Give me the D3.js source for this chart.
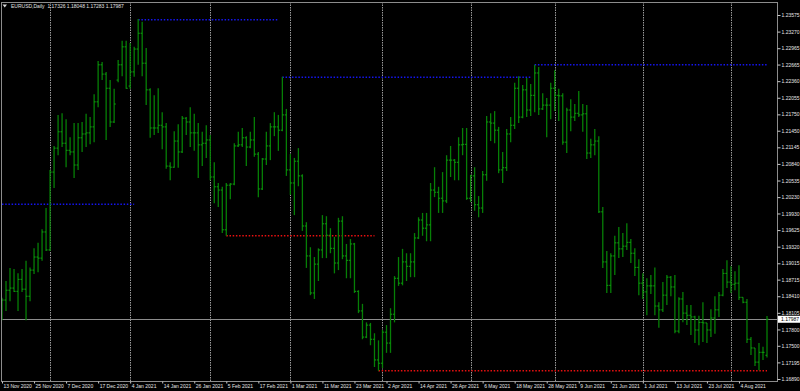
<!DOCTYPE html>
<html>
<head>
<meta charset="utf-8">
<script src="https://cdnjs.cloudflare.com/ajax/libs/d3/7.8.5/d3.min.js"></script>
<style>
html, body { margin: 0; padding: 0; background: #000; }
svg { display: block; }
</style>
</head>
<body>
<svg id="chart" width="800" height="391"></svg>
<script>
// EURUSD daily bars, 13 Nov 2020 .. 13 Aug 2021
var openP = [
  1.1810,1.1834,1.1852,1.1856,1.1850,1.1872,1.1854,1.1841,1.1889,1.1913,
  1.1911,1.1959,1.1926,1.2069,1.2113,1.2143,1.2122,1.2109,1.2106,1.2082,
  1.2132,1.2139,1.2141,1.2152,1.2198,1.2266,1.2249,1.2223,1.2161,1.2238,
  1.2266,1.2299,1.2227,1.2253,1.2295,1.2324,1.2269,1.2220,1.2150,1.2150,
  1.2155,1.2152,1.2080,1.2078,1.2126,1.2106,1.2168,1.2161,1.2141,1.2141,
  1.2119,1.2122,1.2128,1.2060,1.2042,1.2036,1.1963,1.2045,1.2047,1.2117,
  1.2119,1.2132,1.2115,1.2128,1.2102,1.2038,1.2093,1.2117,1.2152,1.2152,
  1.2146,1.2174,1.2073,1.2049,1.2089,1.2062,1.1970,1.1915,1.1847,1.1900,
  1.1926,1.1974,1.1953,1.1929,1.1902,1.1979,1.1915,1.1907,1.1937,1.1850,
  1.1814,1.1766,1.1788,1.1762,1.1724,1.1718,1.1775,1.1755,1.1808,1.1874,
  1.1865,1.1904,1.1896,1.1904,1.1948,1.1981,1.1966,1.1972,1.2036,1.2032,
  1.2021,1.2016,1.2091,1.2091,1.2087,1.2119,1.2120,1.2021,1.2062,1.2009,
  1.2003,1.2064,1.2161,1.2159,1.2146,1.2073,1.2077,1.2139,1.2155,1.2223,
  1.2170,1.2220,1.2183,1.2210,1.2251,1.2185,1.2192,1.2192,1.2223,1.2210,
  1.2209,1.2124,1.2183,1.2170,1.2177,1.2174,1.2176,1.2104,1.2119,1.2126,
  1.1996,1.1904,1.1861,1.1915,1.1939,1.1928,1.1933,1.1940,1.1920,1.1894,
  1.1865,1.1849,1.1860,1.1860,1.1823,1.1816,1.1843,1.1876,1.1858,1.1777,
  1.1836,1.1810,1.1806,1.1803,1.1779,1.1793,1.1792,1.1779,1.1801,1.1816,
  1.1843,1.1883,1.1867,1.1863,1.1865,1.1839,1.1830,1.1762,1.1746,1.1720,
  1.1738,1.17326
];
var highP = [
  1.1838,1.1869,1.1893,1.1891,1.1883,1.1891,1.1906,1.1894,1.1929,1.1939,
  1.1964,1.2003,1.2073,1.2117,1.2174,1.2177,1.2166,1.2133,1.2159,1.2159,
  1.2161,1.2176,1.2170,1.2212,1.2273,1.2271,1.2253,1.2238,1.2222,1.2275,
  1.2310,1.2310,1.2306,1.2299,1.2350,1.2345,1.2297,1.2223,1.2210,1.2223,
  1.2179,1.2159,1.2087,1.2144,1.2157,1.2172,1.2170,1.2188,1.2176,1.2159,
  1.2143,1.2155,1.2137,1.2087,1.2049,1.2042,1.2049,1.2049,1.2122,1.2143,
  1.2150,1.2135,1.2143,1.2170,1.2106,1.2095,1.2143,1.2159,1.2179,1.2174,
  1.2244,1.2185,1.2102,1.2095,1.2113,1.2065,1.1977,1.1931,1.1913,1.1929,
  1.1990,1.1988,1.1966,1.1950,1.1985,1.1988,1.1937,1.1946,1.1939,1.1852,
  1.1827,1.1793,1.1792,1.1773,1.1760,1.1779,1.1788,1.1819,1.1878,1.1913,
  1.1928,1.1920,1.1920,1.1957,1.1986,1.1994,1.1994,1.2049,1.2078,1.2042,
  1.2069,1.2100,1.2117,1.2093,1.2133,1.2150,1.2150,1.2064,1.2078,1.2025,
  1.2071,1.2172,1.2177,1.2181,1.2152,1.2106,1.2148,1.2170,1.2233,1.2245,
  1.2229,1.2242,1.2231,1.2266,1.2262,1.2214,1.2205,1.2233,1.2256,1.2222,
  1.2214,1.2187,1.2203,1.2194,1.2218,1.2194,1.2192,1.2130,1.2148,1.2135,
  1.2005,1.1924,1.1920,1.1952,1.1968,1.1957,1.1975,1.1946,1.1929,1.1909,
  1.1883,1.1874,1.1880,1.1894,1.1830,1.1867,1.1880,1.1878,1.1880,1.1839,
  1.1849,1.1825,1.1825,1.1805,1.1805,1.1830,1.1792,1.1817,1.1841,1.1849,
  1.1891,1.1907,1.1896,1.1887,1.1898,1.1839,1.1836,1.1766,1.1746,1.1755,
  1.1748,1.18048
];
var lowP = [
  1.1797,1.1814,1.1832,1.1849,1.1814,1.1849,1.1797,1.1832,1.1882,1.1885,
  1.1906,1.1924,1.1924,1.2040,1.2100,1.2115,1.2078,1.2100,1.2058,1.2073,
  1.2106,1.2115,1.2120,1.2124,1.2188,1.2238,1.2128,1.2152,1.2159,1.2234,
  1.2245,1.2222,1.2222,1.2244,1.2266,1.2245,1.2192,1.2132,1.2137,1.2141,
  1.2111,1.2075,1.2054,1.2077,1.2077,1.2104,1.2137,1.2115,1.2108,1.2058,
  1.2080,1.2095,1.2054,1.2012,1.2005,1.1957,1.1952,1.2019,1.2045,1.2115,
  1.2115,1.2080,1.2113,1.2097,1.2023,1.2036,1.2082,1.2091,1.2135,1.2108,
  1.2144,1.2062,1.2027,1.1990,1.2043,1.1961,1.1893,1.1843,1.1836,1.1869,
  1.1911,1.1911,1.1920,1.1883,1.1889,1.1909,1.1874,1.1874,1.1847,1.1810,
  1.1762,1.1764,1.1751,1.1711,1.1704,1.1709,1.1737,1.1737,1.1793,1.1860,
  1.1861,1.1869,1.1876,1.1876,1.1946,1.1952,1.1942,1.1942,1.2023,1.1994,
  1.1994,1.2012,1.2060,1.2054,1.2054,1.2100,1.2018,1.2014,1.1998,1.1986,
  1.1994,1.2053,1.2126,1.2122,1.2067,1.2049,1.2071,1.2124,1.2148,1.2159,
  1.2168,1.2170,1.2172,1.2179,1.2174,1.2183,1.2133,1.2166,1.2181,1.2163,
  1.2119,1.2104,1.2144,1.2163,1.2170,1.2143,1.2093,1.2095,1.2100,1.1994,
  1.1893,1.1847,1.1847,1.1880,1.1911,1.1913,1.1926,1.1902,1.1878,1.1843,
  1.1836,1.1806,1.1845,1.1806,1.1783,1.1812,1.1825,1.1841,1.1773,1.1773,
  1.1793,1.1788,1.1770,1.1755,1.1751,1.1757,1.1755,1.1766,1.1772,1.1803,
  1.1841,1.1856,1.1847,1.1852,1.1834,1.1828,1.1755,1.1733,1.1713,1.1705,
  1.1724,1.17283
];
var closeP = [
  1.1834,1.1852,1.1856,1.1850,1.1872,1.1854,1.1841,1.1889,1.1913,1.1911,
  1.1959,1.1926,1.2069,1.2113,1.2143,1.2122,1.2109,1.2106,1.2082,1.2132,
  1.2139,1.2141,1.2152,1.2198,1.2266,1.2249,1.2223,1.2161,1.2194,1.2266,
  1.2299,1.2223,1.2253,1.2295,1.2324,1.2269,1.2220,1.2150,1.2150,1.2155,
  1.2152,1.2080,1.2078,1.2126,1.2106,1.2168,1.2161,1.2141,1.2141,1.2119,
  1.2122,1.2128,1.2060,1.2042,1.2036,1.1963,1.2045,1.2047,1.2117,1.2119,
  1.2132,1.2115,1.2128,1.2102,1.2038,1.2093,1.2117,1.2152,1.2152,1.2146,
  1.2174,1.2073,1.2049,1.2089,1.2062,1.1970,1.1915,1.1847,1.1900,1.1926,
  1.1974,1.1953,1.1929,1.1902,1.1979,1.1915,1.1907,1.1937,1.1850,1.1814,
  1.1766,1.1788,1.1762,1.1724,1.1718,1.1775,1.1755,1.1808,1.1874,1.1865,
  1.1904,1.1896,1.1904,1.1948,1.1981,1.1966,1.1972,1.2036,1.2032,1.2021,
  1.2016,1.2091,1.2091,1.2087,1.2119,1.2120,1.2021,1.2062,1.2009,1.2003,
  1.2064,1.2161,1.2159,1.2146,1.2073,1.2077,1.2139,1.2155,1.2223,1.2170,
  1.2220,1.2183,1.2210,1.2251,1.2185,1.2192,1.2192,1.2223,1.2210,1.2209,
  1.2124,1.2183,1.2170,1.2177,1.2174,1.2176,1.2104,1.2119,1.2126,1.1996,
  1.1904,1.1861,1.1915,1.1939,1.1928,1.1933,1.1940,1.1920,1.1894,1.1865,
  1.1849,1.1860,1.1860,1.1823,1.1816,1.1843,1.1876,1.1858,1.1777,1.1836,
  1.1810,1.1806,1.1803,1.1779,1.1793,1.1792,1.1779,1.1801,1.1816,1.1843,
  1.1883,1.1867,1.1863,1.1865,1.1839,1.1830,1.1762,1.1746,1.1720,1.1738,
  1.1738,1.17987
];

// time scale labels, one every 8 bars
var dateLabels = [
  "13 Nov 2020","25 Nov 2020","7 Dec 2020","17 Dec 2020","4 Jan 2021","14 Jan 2021",
  "26 Jan 2021","5 Feb 2021","17 Feb 2021","1 Mar 2021","11 Mar 2021","23 Mar 2021",
  "2 Apr 2021","14 Apr 2021","26 Apr 2021","6 May 2021","18 May 2021","28 May 2021",
  "9 Jun 2021","21 Jun 2021","1 Jul 2021","13 Jul 2021","23 Jul 2021","4 Aug 2021"
];
var labelStep = 8;
// first bar of each month (vertical grid)
var monthStarts = [12, 32, 52, 72, 95, 117, 138, 160, 182];

var priceTicks = [
  1.23575,1.23270,1.22965,1.22665,1.22360,1.22055,1.21750,1.21450,1.21145,1.20840,
  1.20535,1.20230,1.19930,1.19625,1.19320,1.19015,1.18715,1.18410,1.18105,1.17800,
  1.17500,1.17195,1.16890
];
var lastPrice = 1.17987;
var symbolTitle = "EURUSD,Daily  1.17326 1.18048 1.17283 1.17987";

// period high / low levels
var highLevels = [
  { price: 1.2010, from: 0, to: 33 },
  { price: 1.2349, from: 34, to: 69 },
  { price: 1.2243, from: 70, to: 132 },
  { price: 1.2266, from: 133, to: 191 }
];
var lowLevels = [
  { price: 1.1952, from: 56, to: 93 },
  { price: 1.1704, from: 94, to: 191 }
];

(function () {
  var bars = openP.map(function (o, i) {
    return { i: i, o: o, h: highP[i], l: lowP[i], c: closeP[i] };
  });

  var W = 800, H = 391;
  var pLeft = 1, pRight = 777, pTop = 2, pBottom = 381;
  var font = "'Liberation Sans', Arial, sans-serif";

  var svg = d3.select("#chart");
  svg.append("rect").attr("width", W).attr("height", H).attr("fill", "#000");

  var x = d3.scaleLinear().domain([0, bars.length - 1]).range([2, 767]);
  var y = d3.scaleLinear().domain([1.16890, 1.23575]).range([379, 15]);

  svg.append("clipPath").attr("id", "plot")
    .append("rect").attr("x", pLeft).attr("y", pTop)
    .attr("width", pRight - pLeft).attr("height", pBottom - pTop);

  var plot = svg.append("g").attr("clip-path", "url(#plot)");

  // month grid
  plot.selectAll("line.grid").data(monthStarts).enter().append("line")
    .attr("class", "grid")
    .attr("x1", function (d) { return Math.round(x(d)) + 0.5; })
    .attr("x2", function (d) { return Math.round(x(d)) + 0.5; })
    .attr("y1", pTop).attr("y2", pBottom)
    .attr("stroke", "#9a9a9a").attr("stroke-width", 1)
    .attr("stroke-dasharray", "1.5,1");

  // level lines
  function levels(data, color) {
    plot.append("g").selectAll("line").data(data).enter().append("line")
      .attr("x1", function (d) { return x(d.from); })
      .attr("x2", function (d) { return x(d.to); })
      .attr("y1", function (d) { return y(d.price); })
      .attr("y2", function (d) { return y(d.price); })
      .attr("stroke", color).attr("stroke-width", 1.5)
      .attr("stroke-dasharray", "1.5,1.7");
  }
  levels(highLevels, "#1515ee");
  levels(lowLevels, "#e81010");

  // bid line
  var bidY = Math.round(y(lastPrice)) + 0.5;
  plot.append("line")
    .attr("x1", pLeft).attr("x2", pRight)
    .attr("y1", bidY).attr("y2", bidY)
    .attr("stroke", "#8c8c8c").attr("stroke-width", 1);

  // OHLC bars
  var barG = plot.append("g");
  barG.selectAll("line.hl").data(bars).enter().append("line")
    .attr("x1", function (d) { return x(d.i); })
    .attr("x2", function (d) { return x(d.i); })
    .attr("y1", function (d) { return y(d.h); })
    .attr("y2", function (d) { return y(d.l); })
    .attr("stroke", "#067f06").attr("stroke-width", 1.3);
  barG.selectAll("line.op").data(bars).enter().append("line")
    .attr("x1", function (d) { return x(d.i) - 1.6; })
    .attr("x2", function (d) { return x(d.i); })
    .attr("y1", function (d) { return y(d.o); })
    .attr("y2", function (d) { return y(d.o); })
    .attr("stroke", "#10a010").attr("stroke-width", 1);
  barG.selectAll("line.cl").data(bars).enter().append("line")
    .attr("x1", function (d) { return x(d.i); })
    .attr("x2", function (d) { return x(d.i) + 1.6; })
    .attr("y1", function (d) { return y(d.c); })
    .attr("y2", function (d) { return y(d.c); })
    .attr("stroke", "#10a010").attr("stroke-width", 1);

  // frame
  svg.append("rect")
    .attr("x", pLeft + 0.5).attr("y", pTop + 0.5)
    .attr("width", pRight - pLeft).attr("height", pBottom - pTop)
    .attr("fill", "none").attr("stroke", "#8c8c8c").attr("stroke-width", 1);

  // price axis
  var yAxis = d3.axisRight(y).tickValues(priceTicks)
    .tickSize(3).tickPadding(1).tickFormat(d3.format(".5f"));
  var yg = svg.append("g").attr("transform", "translate(" + (pRight + 0.5) + ",0)").call(yAxis);
  yg.select(".domain").remove();
  yg.selectAll(".tick line").attr("stroke", "#c8c8c8");
  yg.selectAll(".tick text").attr("fill", "#e6e6e6")
    .style("font-family", font).style("font-size", "5px");

  // current price tag
  var tagY = y(lastPrice);
  svg.append("rect").attr("x", pRight + 1).attr("y", tagY - 3.5)
    .attr("width", W - pRight - 1).attr("height", 7).attr("fill", "#fff");
  svg.append("text").attr("x", pRight + 4).attr("y", tagY)
    .attr("dy", "0.34em").attr("fill", "#000")
    .style("font-family", font).style("font-size", "5px")
    .text(d3.format(".5f")(lastPrice));

  // time axis
  var labelIdx = dateLabels.map(function (d, i) { return i * labelStep; });
  var xAxis = d3.axisBottom(x).tickValues(labelIdx)
    .tickSize(2).tickPadding(1)
    .tickFormat(function (d, i) { return dateLabels[i]; });
  var xg = svg.append("g").attr("transform", "translate(0," + (pBottom + 0.5) + ")").call(xAxis);
  xg.select(".domain").remove();
  xg.selectAll(".tick line").attr("stroke", "#c8c8c8");
  xg.selectAll(".tick text").attr("fill", "#e6e6e6")
    .attr("text-anchor", "start").attr("x", 1)
    .style("font-family", font).style("font-size", "5px");

  // title
  svg.append("path").attr("d", "M2.5,4.5 L7,4.5 L4.75,7.5 Z").attr("fill", "#d8d8d8");
  svg.append("text").attr("x", 11).attr("y", 8)
    .attr("fill", "#e0e0e0")
    .style("font-family", font).style("font-size", "5px")
    .attr("xml:space", "preserve")
    .text(symbolTitle);
})();
</script>
</body>
</html>
